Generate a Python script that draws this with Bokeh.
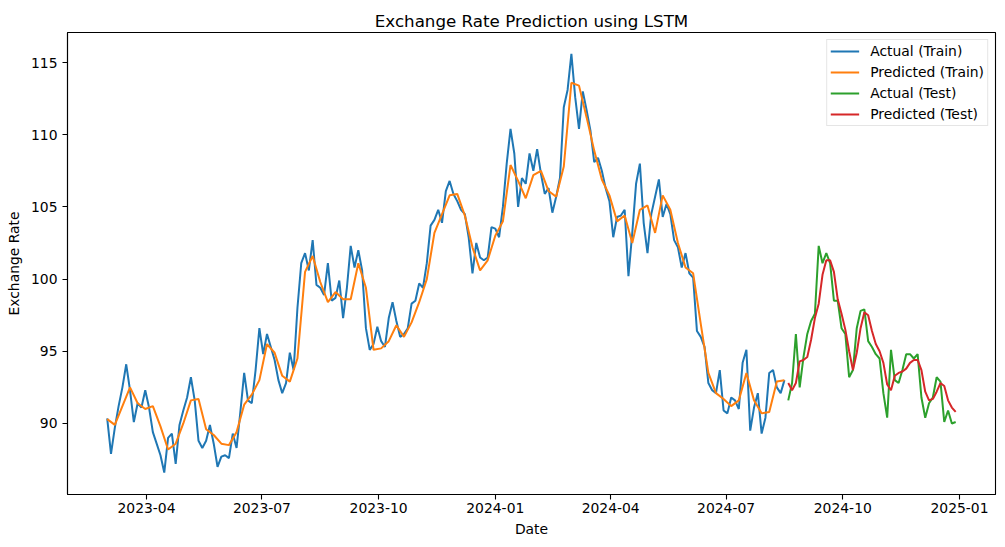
import pandas as pd
from bokeh.plotting import figure
from bokeh.models import FixedTicker, DatetimeTickFormatter, Legend, LegendItem, Range1d
from bokeh.embed import file_html
from bokeh.resources import INLINE

# ---------------- data ----------------
train_start = "2023-03-01"
actual_step_days = 3
pred_train_step_days = 6

actual_train = [
    90.35, 87.9, 89.7, 91.2, 92.5, 94.1, 92.3, 90.1, 91.4, 91.1,
    92.3, 91.1, 89.4, 88.6, 87.8, 86.6, 89.0, 89.3, 87.2, 89.9,
    90.9, 91.8, 93.2, 91.6, 88.8, 88.3, 88.8, 89.9, 88.6, 87.0,
    87.7, 87.8, 87.6, 89.3, 88.3, 90.8, 93.5, 91.6, 91.4, 93.7,
    96.6, 94.8, 96.2, 95.3, 94.4, 93.0, 92.1, 92.8, 94.9, 93.7,
    98.0, 101.1, 101.8, 100.6, 102.7, 99.6, 99.4, 98.9, 101.1, 98.5,
    98.7, 99.9, 97.3, 99.4, 102.3, 100.8, 102.0, 100.6, 96.6, 95.1,
    95.5, 96.7, 95.7, 95.3, 97.3, 98.4, 97.1, 96.0, 96.2, 96.6,
    98.3, 98.5, 99.7, 99.4, 101.1, 103.7, 104.1, 104.8, 103.9, 106.1,
    106.8, 105.9, 105.4, 104.8, 104.5, 102.9, 100.4, 102.5, 101.5, 101.3,
    101.5, 103.6, 103.5, 102.9, 105.0, 108.0, 110.4, 108.7, 105.0, 107.0,
    106.6, 108.7, 107.5, 109.0, 107.3, 105.9, 106.3, 104.6, 105.7, 107.0,
    111.9, 113.1, 115.6, 112.6, 110.4, 113.0, 111.7, 110.3, 108.1, 108.4,
    107.5, 106.3, 105.4, 102.9, 104.3, 104.4, 104.8, 100.2, 103.2, 106.6,
    108.0, 103.9, 101.8, 104.5, 105.7, 106.9, 104.3, 105.2, 104.5, 102.7,
    102.2, 100.8, 101.8, 100.4, 100.1, 96.4, 96.0, 95.3, 92.8, 92.3,
    92.1, 93.7, 90.9, 90.7, 91.8, 91.6, 91.0, 94.2, 95.1, 89.5,
    91.1, 92.1, 89.3, 90.4, 93.5, 93.7, 92.5, 92.1, 93.0,
]

pred_train = [
    90.3, 89.9, 91.2, 92.5, 91.4, 91.0, 91.2, 89.8, 88.2, 88.6,
    90.0, 91.6, 91.7, 89.6, 89.2, 88.6, 88.5, 89.4, 91.3, 92.0,
    93.0, 95.5, 94.9, 93.3, 92.9, 94.5, 100.5, 101.6, 99.8, 98.4,
    99.1, 98.6, 98.6, 101.1, 99.4, 95.1, 95.2, 95.7, 96.8, 96.0,
    97.0, 98.4, 100.0, 103.2, 104.5, 105.8, 105.9, 104.4, 102.2, 100.6,
    101.3, 103.0, 104.0, 107.9, 106.8, 105.6, 107.2, 107.5, 106.1, 105.7,
    107.8, 113.6, 113.4, 111.2, 108.9, 106.9, 105.8, 104.0, 104.4, 102.5,
    104.8, 105.1, 103.2, 105.8, 104.8, 102.5, 100.8, 100.4, 96.9, 93.5,
    92.1, 91.7, 91.2, 91.6, 93.5, 91.6, 90.7, 90.8, 92.9, 93.0,
]

actual_test = [
    91.6, 92.8, 96.2, 92.5, 94.6, 96.2, 97.1, 97.6, 102.3, 101.1,
    101.8, 101.1, 98.5, 98.5, 96.6, 96.2, 93.2, 93.7, 96.6, 97.8,
    97.9, 95.7, 95.3, 94.8, 94.5, 92.1, 90.4, 95.1, 93.0, 92.8,
    93.7, 94.8, 94.8, 94.5, 94.8, 91.8, 90.4, 91.4, 91.8, 93.2,
    92.9, 90.1, 90.9, 90.0, 90.1,
]

pred_test = [
    92.8, 92.3, 92.8, 94.3, 94.4, 94.6, 95.8, 97.3, 98.3, 100.3,
    101.3, 101.3, 100.5, 98.6, 97.6, 96.5, 95.0, 93.7, 94.9, 96.6,
    97.7, 97.5, 96.4, 95.5, 95.0, 94.2, 92.7, 92.3, 93.3, 93.5,
    93.6, 93.8, 94.2, 94.4, 94.4, 93.7, 92.2, 91.6, 91.7, 92.2,
    92.8, 92.6, 91.6, 91.1, 90.8,
]

x_tick_labels = ["2023-04", "2023-07", "2023-10", "2024-01",
                 "2024-04", "2024-07", "2024-10", "2025-01"]
y_ticks = [90, 95, 100, 105, 110, 115]

series_names = ["Actual (Train)", "Predicted (Train)", "Actual (Test)", "Predicted (Test)"]
series_colors = ["#1f77b4", "#ff7f0e", "#2ca02c", "#d62728"]

# ---------------- dates ----------------
d_actual_train = pd.date_range(train_start, periods=len(actual_train), freq=f"{actual_step_days}D")
test_start = d_actual_train[-1] + pd.Timedelta(days=actual_step_days)
d_pred_train = pd.date_range(train_start, periods=len(pred_train), freq=f"{pred_train_step_days}D")
d_actual_test = pd.date_range(test_start, periods=len(actual_test), freq=f"{actual_step_days}D")
d_pred_test = pd.date_range(test_start, periods=len(pred_test), freq=f"{actual_step_days}D")

t0 = pd.Timestamp(train_start)
x_start = t0 - pd.Timedelta(days=31.3)
x_end = t0 + pd.Timedelta(days=700.4)

FONT = "DejaVu Sans"
TICK_SIZE = "13.9px"

p = figure(
    width=1000, height=545,
    x_axis_type="datetime",
    x_range=Range1d(start=x_start, end=x_end),
    y_range=Range1d(start=85.08, end=117.08),
    output_backend="svg",
    toolbar_location=None,
    title="Exchange Rate Prediction using LSTM",
)
p.min_border_left = 67
p.min_border_right = 5
p.min_border_top = 32
p.min_border_bottom = 51

p.background_fill_color = "white"
p.border_fill_color = "white"
p.outline_line_color = "black"
p.outline_line_width = 1.1
p.xgrid.visible = False
p.ygrid.visible = False

p.title.text_font = FONT
p.title.text_font_size = "16.7px"
p.title.text_font_style = "normal"
p.title.text_color = "black"
p.title.align = "center"
p.title.standoff = 4

tick_ms = [pd.Timestamp(t + "-01").timestamp() * 1000 for t in x_tick_labels]
p.xaxis.ticker = FixedTicker(ticks=tick_ms)
fmt = "%Y-%m"
p.xaxis.formatter = DatetimeTickFormatter(days=fmt, months=fmt, years=fmt)
p.yaxis.ticker = FixedTicker(ticks=y_ticks)

for ax in (p.xaxis[0], p.yaxis[0]):
    ax.axis_line_color = "black"
    ax.axis_line_width = 1.1
    ax.major_tick_line_color = "black"
    ax.major_tick_line_width = 1.1
    ax.major_tick_out = 5
    ax.major_tick_in = 0
    ax.minor_tick_out = 0
    ax.minor_tick_in = 0
    ax.major_label_text_font = FONT
    ax.major_label_text_font_size = TICK_SIZE
    ax.major_label_text_color = "black"
    ax.axis_label_text_font = FONT
    ax.axis_label_text_font_size = TICK_SIZE
    ax.axis_label_text_font_style = "normal"
    ax.axis_label_text_color = "black"

p.xaxis.major_label_standoff = 3
p.xaxis.axis_label_standoff = 5
p.yaxis.major_label_standoff = 5
p.yaxis.axis_label_standoff = 6

p.xaxis.axis_label = "Date"
p.yaxis.axis_label = "Exchange Rate"

xs = [d_actual_train, d_pred_train, d_actual_test, d_pred_test]
ys = [actual_train, pred_train, actual_test, pred_test]
renderers = []
for x, y, c in zip(xs, ys, series_colors):
    renderers.append(p.line(x, y, line_color=c, line_width=2))

legend = Legend(
    items=[LegendItem(label=n, renderers=[r]) for n, r in zip(series_names, renderers)],
    location="top_right",
)
legend.label_text_font = FONT
legend.label_text_font_size = TICK_SIZE
legend.label_text_color = "black"
legend.glyph_width = 29
legend.glyph_height = 14
legend.label_height = 14
legend.spacing = 5
legend.padding = 3
legend.margin = 7
legend.label_standoff = 11
legend.border_line_color = "#cccccc"
legend.border_line_width = 1
legend.background_fill_color = "white"
legend.background_fill_alpha = 0.8
p.add_layout(legend)

open("out.html", "w").write(file_html(p, INLINE))
